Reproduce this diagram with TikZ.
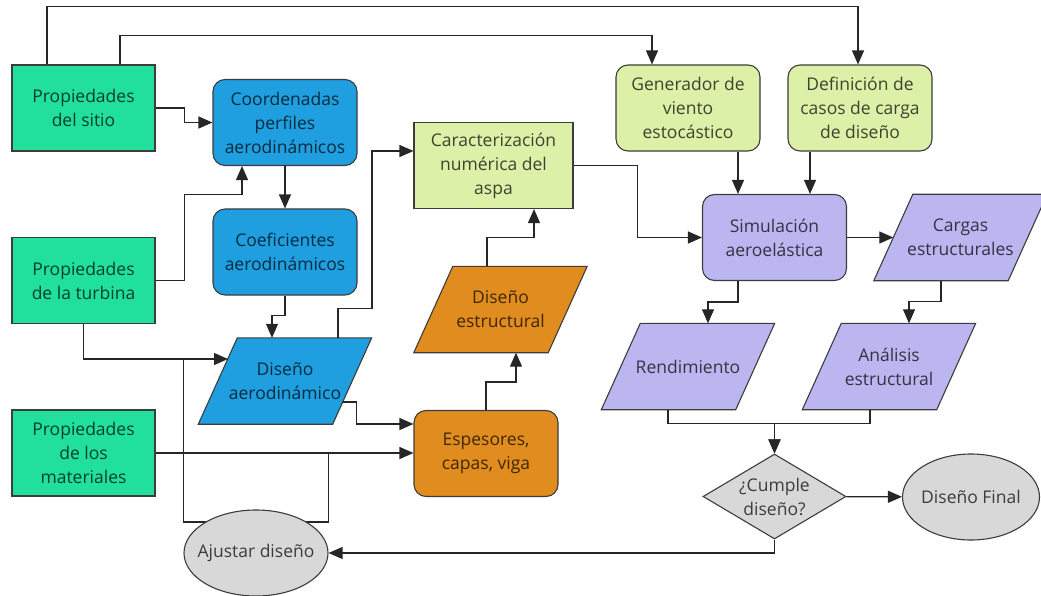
\documentclass[tikz,border=0pt]{standalone}
\usepackage{fontspec}
\setmainfont{Open Sans}
\usetikzlibrary{shapes.geometric, arrows.meta}

\definecolor{sitegreen}{RGB}{32,224,156}
\definecolor{aeroblue}{RGB}{31,158,224}
\definecolor{limegreen}{RGB}{221,240,168}
\definecolor{structorange}{RGB}{224,140,30}
\definecolor{simlavender}{RGB}{188,182,240}
\definecolor{stopgray}{RGB}{216,216,216}
\definecolor{edgegray}{RGB}{60,60,60}

\pgfdeclarelayer{bg}
\pgfsetlayers{bg,main}

\begin{document}
\begin{tikzpicture}[x = 1pt, y = -1pt,
    every node/.style = {font = \fontsize{17.5}{24}\selectfont, align = center,
        text = black, text opacity = 0.72},
    outline/.style = {draw = edgegray, line width = 1.1pt},
    box/.style = {rectangle, outline, minimum width = 144pt, minimum height = 86pt, inner sep = 0pt},
    inbox/.style = {box, fill = sitegreen, minimum width = 143pt},
    roundbox/.style = {box, rounded corners = 12pt},
    slant/.style = {rectangle, minimum width = 134pt, minimum height = 86pt, inner sep = 0pt},
    decision/.style = {diamond, outline, fill = stopgray,
        minimum width = 143pt, minimum height = 85pt, inner sep = -14pt},
    terminal/.style = {ellipse, outline, fill = stopgray,
        minimum height = 86pt, inner sep = -12pt},
    wire/.style = {line width = 1.2pt, draw = black!85},
    arr/.style = {wire, -{Triangle[length = 14pt, width = 12pt]}}]

    \useasboundingbox (0, 0) rectangle (1041, 596);

% Entradas del proceso
    \node [inbox] (sitio) at (83.5, 108) {Propiedades\\del sitio};
    \node [inbox] (turbina) at (83.5, 280.5) {Propiedades\\de la turbina};
    \node [inbox] (materiales) at (83.5, 453) {Propiedades\\de los\\materiales};

% Diseño aerodinámico
    \node [roundbox, fill = aeroblue] (coord) at (285, 122.5) {Coordenadas\\perfiles\\aerodinámicos};
    \node [roundbox, fill = aeroblue] (coef) at (285, 252) {Coeficientes\\aerodinámicos};
    \node [slant] (aero) at (285, 381) {Diseño\\aerodinámico};

% Diseño estructural
    \node [roundbox, fill = structorange] (espesores) at (486, 453.5) {Espesores,\\capas, viga};
    \node [slant] (estruct) at (500.5, 309.5) {Diseño\\estructural};
    \node [box, fill = limegreen, minimum width = 159pt] (caract) at (493.5, 165.5) {Caracterización\\numérica del\\aspa};

% Simulación
    \node [roundbox, fill = limegreen] (generador) at (688, 108) {Generador de\\viento\\estocástico};
    \node [roundbox, fill = limegreen] (definicion) at (860, 108) {Definición de\\casos de carga\\de diseño};
    \node [roundbox, fill = simlavender] (simul) at (774.5, 237.5) {Simulación\\aeroelástica};
    \node [slant] (cargas) at (960.5, 237.5) {Cargas\\estructurales};
    \node [slant] (rend) at (688, 366.5) {Rendimiento};
    \node [slant] (analisis) at (889, 366.5) {Análisis\\estructural};

% Decisión
    \node [decision] (cumple) at (774.5, 496.5) {¿Cumple\\diseño?};
    \node [terminal, minimum width = 137pt] (final) at (971, 497) {Diseño Final};
    \node [terminal, minimum width = 144pt] (ajustar) at (256, 553) {Ajustar diseño};

% Los paralelogramos van detrás del texto
    \begin{pgfonlayer}{bg}
        \filldraw [outline, fill = aeroblue] ([xshift = 19.5]aero.north west) -- ([xshift = 19.5]aero.north east)
            -- ([xshift = -19.5]aero.south east) -- ([xshift = -19.5]aero.south west) -- cycle;
        \filldraw [outline, fill = structorange] ([xshift = 19.5]estruct.north west) -- ([xshift = 19.5]estruct.north east)
            -- ([xshift = -19.5]estruct.south east) -- ([xshift = -19.5]estruct.south west) -- cycle;
        \filldraw [outline, fill = simlavender] ([xshift = 19.5]cargas.north west) -- ([xshift = 19.5]cargas.north east)
            -- ([xshift = -19.5]cargas.south east) -- ([xshift = -19.5]cargas.south west) -- cycle;
        \filldraw [outline, fill = simlavender] ([xshift = 19.5]rend.north west) -- ([xshift = 19.5]rend.north east)
            -- ([xshift = -19.5]rend.south east) -- ([xshift = -19.5]rend.south west) -- cycle;
        \filldraw [outline, fill = simlavender] ([xshift = 19.5]analisis.north west) -- ([xshift = 19.5]analisis.north east)
            -- ([xshift = -19.5]analisis.south east) -- ([xshift = -19.5]analisis.south west) -- cycle;
    \end{pgfonlayer}

% Conexiones
    \coordinate (entrada) at ([xshift = -57, yshift = 22]aero.center);

    \draw [arr] ([xshift = -36.5]sitio.north) -- ++(0, -58) -| ([xshift = -2]definicion.north);
    \draw [arr] ([xshift = 36.5]sitio.north) -- ++(0, -29) -| ([xshift = -36]generador.north);
    \draw [arr] (sitio.east) -- ++(29, 0) |- (coord.west);
    \draw [arr] (turbina.east) -- ++(29, 0) -- ++(0, -86) -| ([xshift = -43]coord.south);
    \draw [arr] (coord) -- (coef);
    \draw [arr] (coef.south) -- ++(0, 20) -| ([xshift = -13]aero.north);
    \draw [arr] (turbina.south) |- (entrada);
    \draw [arr] ([xshift = 53]aero.north) -- ++(0, -29) -- ++(34, 0) |- ([yshift = 14.5]caract.west);
    \draw [arr] ([xshift = 57.5, yshift = -21]aero.center) -- ++(14, 0) |- ([yshift = 29.5]espesores.west);
    \draw [arr] (materiales.east) -- (materiales.east -| espesores.west);
    \draw [arr] (espesores.north) -- ++(0, -28) -| ([xshift = 15.5]estruct.south);
    \draw [arr] ([xshift = -13.5]estruct.north) -- ++(0, -29) -| ([xshift = 40.5]caract.south);
    \draw [arr] (caract.east) -- ++(64, 0) |- (simul.west);
    \draw [arr] ([xshift = 50]generador.south) -- ([xshift = -36.5]simul.north);
    \draw [arr] ([xshift = -50]definicion.south) -- ([xshift = 35.5]simul.north);
    \draw [arr] (simul.east) -- (cargas.west);
    \draw [arr] ([xshift = -36.5]simul.south) -- ++(0, 21) -| ([xshift = 20]rend.north);
    \draw [arr] ([xshift = -19.5]cargas.south) -- ++(0, 21) -| ([xshift = 20]analisis.north);
    \draw [arr] ([xshift = -20]rend.south) -- ++(0, 14) -| (cumple.north);
    \draw [arr] ([xshift = -19]analisis.south) -- ++(0, 14) -| (cumple.north);
    \draw [arr] (cumple) -- (final);
    \draw [arr] (cumple.south) |- (ajustar.east);

% El ajuste vuelve a las entradas
    \begin{pgfonlayer}{bg}
        \draw [wire] ([yshift = 31]ajustar.center) -| (ajustar.west |- entrada);
        \draw [wire] ([yshift = 31]ajustar.center) -| (ajustar.east |- materiales.east);
    \end{pgfonlayer}

\end{tikzpicture}
\end{document}
